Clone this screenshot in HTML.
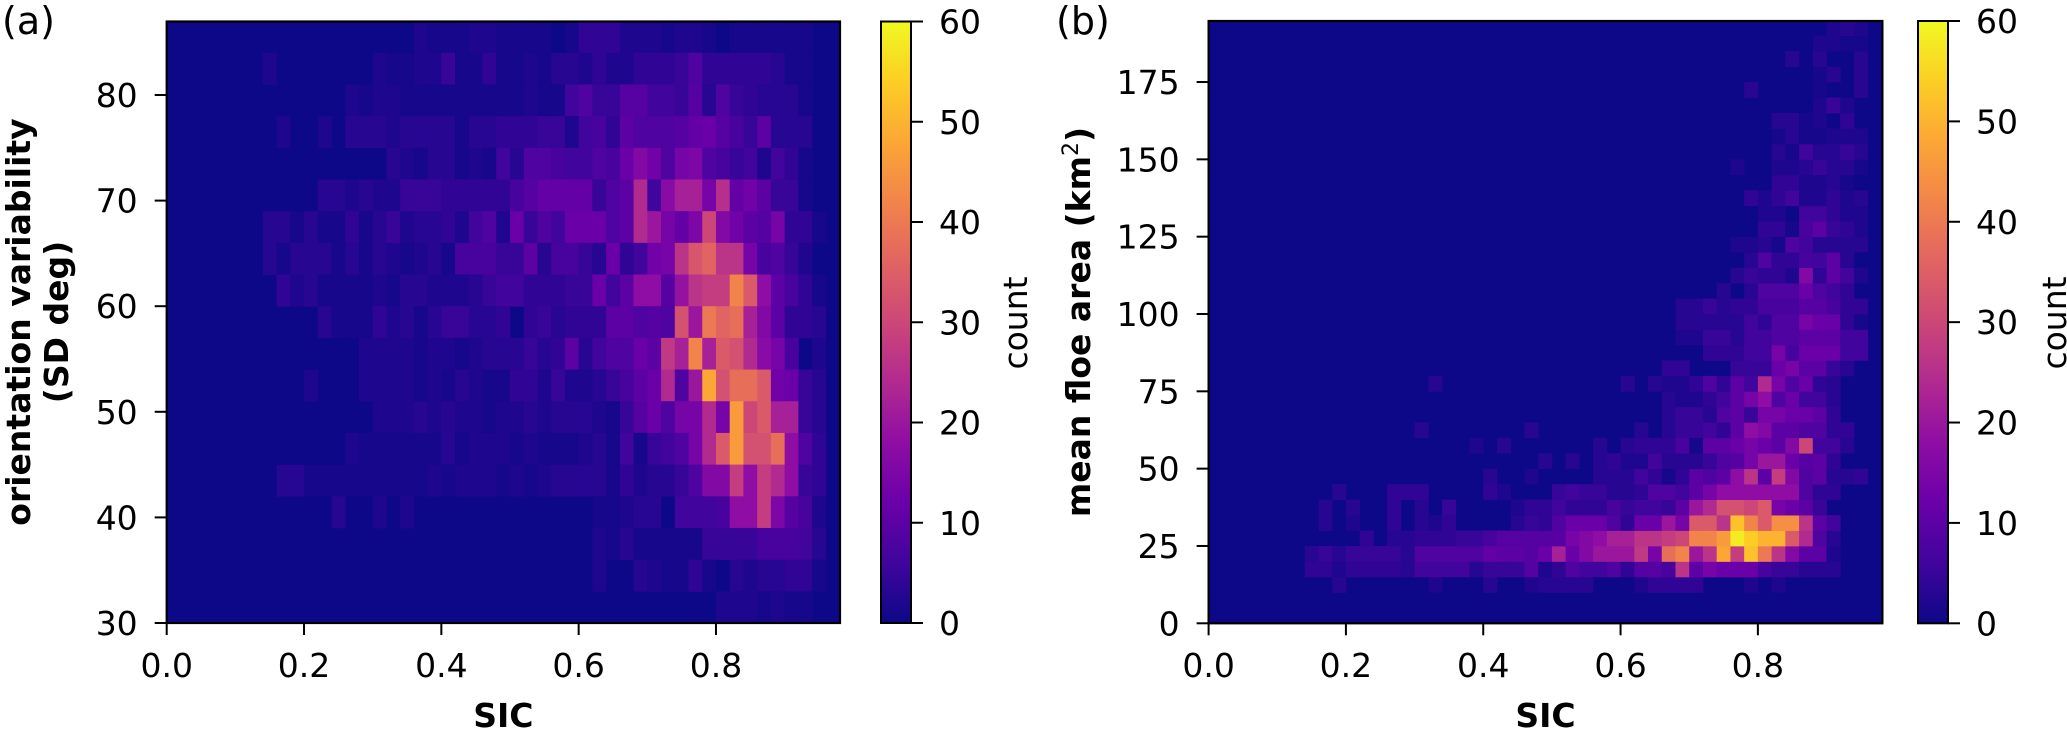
<!DOCTYPE html>
<html><head><meta charset="utf-8"><style>
html,body{margin:0;padding:0;background:#fff;}
svg{display:block;}
text{font-family:"DejaVu Sans","Liberation Sans",sans-serif;fill:#000;}
</style></head>
<body>
<svg id="fig" width="2067" height="729" viewBox="0 0 2067 729" xmlns="http://www.w3.org/2000/svg">
<defs>
<linearGradient id="plasmaGrad" x1="0" y1="1" x2="0" y2="0">
<stop offset="0" stop-color="#0d0887"/><stop offset="0.1" stop-color="#41049d"/><stop offset="0.2" stop-color="#6a00a8"/><stop offset="0.3" stop-color="#8f0da4"/><stop offset="0.4" stop-color="#b12a90"/><stop offset="0.5" stop-color="#cc4778"/><stop offset="0.6" stop-color="#e16462"/><stop offset="0.7" stop-color="#f2844b"/><stop offset="0.8" stop-color="#fca636"/><stop offset="0.9" stop-color="#fcce25"/><stop offset="1" stop-color="#f0f921"/>
</linearGradient>
<clipPath id="clipA"><rect x="166.7" y="21.5" width="673.3" height="601.5"/></clipPath>
<clipPath id="clipB"><rect x="1208.6" y="21" width="673.8" height="602.3"/></clipPath>
</defs>
<g id="gA"></g>
<g id="gB"></g>
</svg>
<script>
// ---- data (sparse rows: first number = starting SIC column index, then counts) ----
// Panel (a): 49 SIC bins (0.02 wide), 19 orientation bins (3 deg), rows listed top (84-87) to bottom (30-33)
const sicBinWidth = 0.02;
const countsA = [
[18, 2,1,1,1,2,2,1,1,1,1,0,1,4,4,4,2,2,2,1,2,2,1,0,1,1,1,1,1,1],
[7, 2,0,0,0,0,0,0,0,2,1,1,2,2,5,1,1,4,1,1,2,1,3,3,2,4,2,2,4,4,4,5,8,4,4,4,4,4,3,1,1],
[13, 2,1,2,2,1,1,1,1,1,1,1,1,1,2,1,1,6,8,5,5,9,9,6,6,5,9,3,8,5,4,3,3,3,1],
[8, 2,0,0,2,0,3,3,3,2,3,3,3,3,1,3,3,4,4,4,5,5,2,6,7,4,10,8,8,8,9,11,12,9,7,5,10,3,3,3],
[16, 3,2,1,3,3,1,2,1,6,3,8,8,7,6,6,8,7,12,16,13,8,14,15,8,7,5,6,2,6,4,1],
[11, 3,3,2,3,2,2,5,5,5,4,4,4,4,4,7,9,11,11,11,11,5,8,10,24,6,17,22,22,14,25,11,13,10,5,5,1],
[7, 3,3,1,3,1,1,4,1,3,5,2,3,3,4,2,6,8,2,12,5,8,6,12,12,12,8,10,24,20,14,11,15,30,16,13,10,9,14,4,4,1],
[7, 3,1,3,3,3,1,3,1,3,2,1,2,3,1,7,7,7,5,5,10,3,7,7,5,3,12,4,6,13,14,26,33,36,26,26,14,7,8,5,2],
[8, 4,2,3,1,1,1,1,2,1,3,3,2,2,2,3,5,6,6,4,4,4,5,5,12,6,10,18,18,9,19,26,28,28,42,34,18,10,7,4,1],
[11, 3,1,1,1,4,2,3,1,3,5,5,3,3,4,0,4,5,3,4,4,4,10,10,8,9,8,32,20,40,36,38,22,16,10,4,4,3],
[14, 2,2,2,2,1,2,2,1,2,3,3,3,5,3,4,10,3,6,8,8,12,10,27,22,42,22,34,32,24,17,14,7,0,2],
[10, 2,0,0,0,2,2,2,2,1,2,1,3,2,1,1,4,4,2,5,2,2,3,5,7,10,12,24,8,20,48,32,38,38,34,13,12,5,3],
[15, 2,2,2,3,2,3,2,2,1,2,2,3,2,3,3,3,2,1,5,9,12,8,14,14,24,14,46,30,34,22,22,5,3],
[13, 2,1,1,1,1,1,1,3,1,2,2,2,1,2,1,1,1,2,3,1,6,1,5,6,8,14,24,34,46,32,32,38,18,8,4],
[8, 3,3,1,1,1,1,1,1,1,1,1,2,1,2,2,2,1,2,1,2,3,3,3,3,1,4,2,3,3,5,8,16,16,28,18,28,24,18,5,4],
[12, 3,0,0,2,0,2,0,0,0,0,0,0,0,0,0,0,0,0,0,1,1,2,3,3,0,6,6,6,7,18,18,28,15,9,7,2],
[31, 2,1,3,1,1,1,1,1,5,5,5,5,7,7,7,6,3],
[31, 2,0,0,3,2,1,1,4,1,0,3,2,3,3,4,4,1],
[40, 2,2,2,1,2,1,1]
];
const yBinA = 3, yMaxA = 87;
// Panel (b): rows listed bottom (0-5 km2) to top (190-195 km2), 5 km2 bins
const countsB = [
[0],[0],
[9, 3,0,0,0,0,0,0,2,0,0,0,3,0,0,2,3,3,3,3,0,0,0,2,4,4,4,4,0,0,0,2,0,2],
[7, 4,4,2,4,4,4,4,3,6,6,6,6,3,5,5,5,9,2,4,8,6,6,8,4,9,9,7,26,10,14,12,12,12,7,5,5,3,3,3],
[7, 3,5,3,5,5,5,5,3,8,8,8,8,8,11,10,10,9,12,22,12,16,20,20,20,27,14,38,42,20,26,48,28,52,40,26,16,10,10,2],
[11, 4,0,3,3,4,4,4,5,5,7,9,9,9,9,9,14,16,18,22,22,26,26,28,30,42,42,46,58,54,50,50,34,24,8,3],
[8, 3,0,2,0,0,4,0,3,2,4,0,0,0,0,3,5,4,8,12,12,12,8,4,12,12,20,14,34,34,26,52,42,34,44,44,26,10,6],
[8, 3,0,3,0,0,4,0,3,0,5,0,0,0,0,2,4,4,6,4,4,4,7,5,6,6,5,10,20,24,32,32,30,34,14,12,10,5],
[9, 3,0,0,0,4,4,4,0,0,0,0,4,2,0,0,0,5,6,5,5,3,3,4,8,8,6,10,14,18,18,18,18,18,18,8,4,4],
[20, 3,0,0,2,0,0,0,0,3,3,3,6,4,1,4,10,8,10,18,26,10,28,16,8,10,3,3,4],
[24, 3,0,3,0,3,4,2,2,6,3,3,3,5,8,9,14,20,20,12,9,10,4],
[19, 2,0,3,0,0,0,0,0,0,3,0,3,4,4,4,7,1,10,10,12,14,12,10,16,30,6,6,3],
[15, 3,0,0,0,0,0,0,0,3,0,0,0,0,0,0,0,3,0,3,5,5,6,4,10,18,16,10,10,8,8,4,4],
[33, 3,5,5,3,8,10,5,14,14,12,12,10,4],
[33, 3,2,2,4,6,10,14,18,8,12,6,6,3],
[16, 3,0,0,0,0,0,0,0,0,0,0,0,0,0,3,0,3,2,2,4,8,4,10,6,24,14,8,12,4,3],
[33, 4,4,0,0,0,5,5,5,12,14,10,10,5,3],
[36, 4,4,4,6,6,14,7,12,12,12,6,6],
[34, 2,2,5,5,3,6,6,8,8,10,10,10,6,6],
[34, 3,3,3,3,3,6,4,8,8,14,12,12,4,1],
[34, 3,3,5,3,4,4,7,7,7,9,9,7,4,4],
[37, 3,0,3,8,8,8,12,8,6,4],
[38, 3,5,4,4,2,16,4,10,6,2],
[39, 3,8,4,4,7,6,10,3],
[38, 2,2,3,1,8,6,3,3,3,3],
[40, 4,4,1,7,10,5,4,2],
[40, 2,2,0,6,6,4,2,2],
[39, 4,2,4,6,2,2,4,2,3],
[41, 4,4,2,2,3,1],
[38, 2,0,0,2,2,3,5,3,3,1],
[41, 3,1,6,3,3,5,3],
[41, 1,3,1,1,2,2,2],
[41, 3,3,1,2,0,4],
[44, 2,5,2],
[39, 3,0,0,0,0,1,0,0,3],
[44, 1,3,0,3],
[42, 3,0,3,0,0,3],
[44, 2,2,1,1],
[45, 2,3,2]
];
const yBinB = 5;
const xTicks = [0.0, 0.2, 0.4, 0.6, 0.8];
const xTickLabels = ["0.0", "0.2", "0.4", "0.6", "0.8"];
const yTicksA = [30, 40, 50, 60, 70, 80];
const yTicksB = [0, 25, 50, 75, 100, 125, 150, 175];
const cbarTicks = [0, 10, 20, 30, 40, 50, 60];
const countMax = 60;

const NS = "http://www.w3.org/2000/svg";
const plasmaStops = ["#0d0887","#41049d","#6a00a8","#8f0da4","#b12a90","#cc4778","#e16462","#f2844b","#fca636","#fcce25","#f0f921"];
function hex2rgb(h){return [parseInt(h.slice(1,3),16),parseInt(h.slice(3,5),16),parseInt(h.slice(5,7),16)];}
function plasma(t){
  t = Math.max(0, Math.min(1, t));
  const p = t * 10, i = Math.min(9, Math.floor(p)), f = p - i;
  const a = hex2rgb(plasmaStops[i]), b = hex2rgb(plasmaStops[i+1]);
  return "rgb(" + a.map((v,k)=>Math.round(v + (b[k]-v)*f)).join(",") + ")";
}
function mk(tag, attrs, parent){
  const e = document.createElementNS(NS, tag);
  for (const k in attrs) e.setAttribute(k, attrs[k]);
  parent.appendChild(e);
  return e;
}

function drawPanel(cfg){
  const g = document.getElementById(cfg.gid);
  const xS = v => cfg.x0 + v * cfg.xPer;
  const yS = v => cfg.yBottom - (v - cfg.yMin) * cfg.yPer;
  // background
  const bg = mk("rect", {x:cfg.x0, y:cfg.yTop, width:cfg.x1-cfg.x0, height:cfg.yBottom-cfg.yTop, fill:plasma(0)}, g);
  
  
  const cells = mk("g", {"clip-path":"url(#"+cfg.clip+")"}, g);
  
  
  cfg.rows.forEach((row, ri) => {
    const yLo = cfg.rowLow(ri), yHi = yLo + cfg.yBin;
    const start = row[0];
    for (let k = 1; k < row.length; k++) {
      const v = row[k];
      if (!v) continue;
      const c = start + k - 1;
      const xa = xS(c * sicBinWidth), xb = xS((c + 1) * sicBinWidth);
      const r = mk("rect", {x:xa.toFixed(2), y:yS(yHi).toFixed(2), width:(xb-xa+0.4).toFixed(2), height:(yS(yLo)-yS(yHi)+0.4).toFixed(2), fill:plasma(v / countMax)}, cells);
      
      
    }
  });
  // frame
  const fr = mk("rect", {x:cfg.x0, y:cfg.yTop, width:cfg.x1-cfg.x0, height:cfg.yBottom-cfg.yTop, fill:"none", stroke:"#000", "stroke-width":2.2}, g);
  
  
  // x ticks
  xTicks.forEach((t, i) => {
    const x = xS(t);
    const tk = mk("line", {x1:x, x2:x, y1:cfg.yBottom, y2:cfg.yBottom+12, stroke:"#000", "stroke-width":2}, g);
    
    
    const tl = mk("text", {x:x, y:677, "font-size":33, "text-anchor":"middle"}, g);
    tl.textContent = xTickLabels[i];
    
    
  });
  // y ticks
  cfg.yTicks.forEach(t => {
    const y = yS(t);
    const tk = mk("line", {x1:cfg.x0-12, x2:cfg.x0, y1:y, y2:y, stroke:"#000", "stroke-width":2}, g);
    
    
    const tl = mk("text", {x:cfg.x0-29, y:y+12, "font-size":33, "text-anchor":"end"}, g);
    tl.textContent = String(t);
    
    
  });
  // x title
  const xt = mk("text", {x:(cfg.x0+cfg.x1)/2, y:727, "font-size":33, "font-weight":"bold", "text-anchor":"middle"}, g);
  xt.textContent = "SIC";
  
  
  // colorbar
  const cb = mk("rect", {x:cfg.cbX, y:cfg.yTop, width:30, height:cfg.yBottom-cfg.yTop, fill:"url(#plasmaGrad)", stroke:"#000", "stroke-width":2}, g);
  
  
  cbarTicks.forEach(t => {
    const y = cfg.yBottom - (t / countMax) * (cfg.yBottom - cfg.yTop);
    const tk = mk("line", {x1:cfg.cbX+30, x2:cfg.cbX+42, y1:y, y2:y, stroke:"#000", "stroke-width":2}, g);
    
    
    const tl = mk("text", {x:cfg.cbX+58, y:y+12, "font-size":33}, g);
    tl.textContent = String(t);
    
    
  });
  const cl = mk("text", {x:0, y:0, "font-size":33, "text-anchor":"middle", transform:"translate("+cfg.countX+",323) rotate(-90)"}, g);
  cl.textContent = "count";
  
  
  // panel label
  const pl = mk("text", {x:cfg.labelX, y:34, "font-size":38}, g);
  pl.textContent = cfg.label;
  
  
  return g;
}

const gA = drawPanel({gid:"gA", clip:"clipA", rows:countsA, x0:166.7, x1:840, xPer:686.6, yTop:21.5, yBottom:623, yMin:30, yPer:10.56,
  yBin:yBinA, rowLow: ri => yMaxA - yBinA*(ri+1), yTicks:yTicksA, cbX:881, countX:1027, label:"(a)", labelX:2});
const gB = drawPanel({gid:"gB", clip:"clipB", rows:countsB, x0:1208.6, x1:1882.4, xPer:686.6, yTop:21, yBottom:623.3, yMin:0, yPer:3.093,
  yBin:yBinB, rowLow: ri => yBinB*ri, yTicks:yTicksB, cbX:1918, countX:2066, label:"(b)", labelX:1056});

// y-axis titles
const ya = mk("text", {x:0, y:0, "font-size":33, "font-weight":"bold", "text-anchor":"middle", transform:"translate(30,322) rotate(-90)"}, gA);
ya.textContent = "orientation variability";


const ya2 = mk("text", {x:0, y:0, "font-size":33, "font-weight":"bold", "text-anchor":"middle", transform:"translate(68,322) rotate(-90)"}, gA);
ya2.textContent = "(SD deg)";


const yb = mk("text", {x:0, y:0, "font-size":33, "font-weight":"bold", "text-anchor":"middle", transform:"translate(1090,322) rotate(-90)"}, gB);
yb.innerHTML = 'mean floe area (km<tspan baseline-shift="super" font-size="22" font-weight="normal">2</tspan>)';


</script>
</body></html>
